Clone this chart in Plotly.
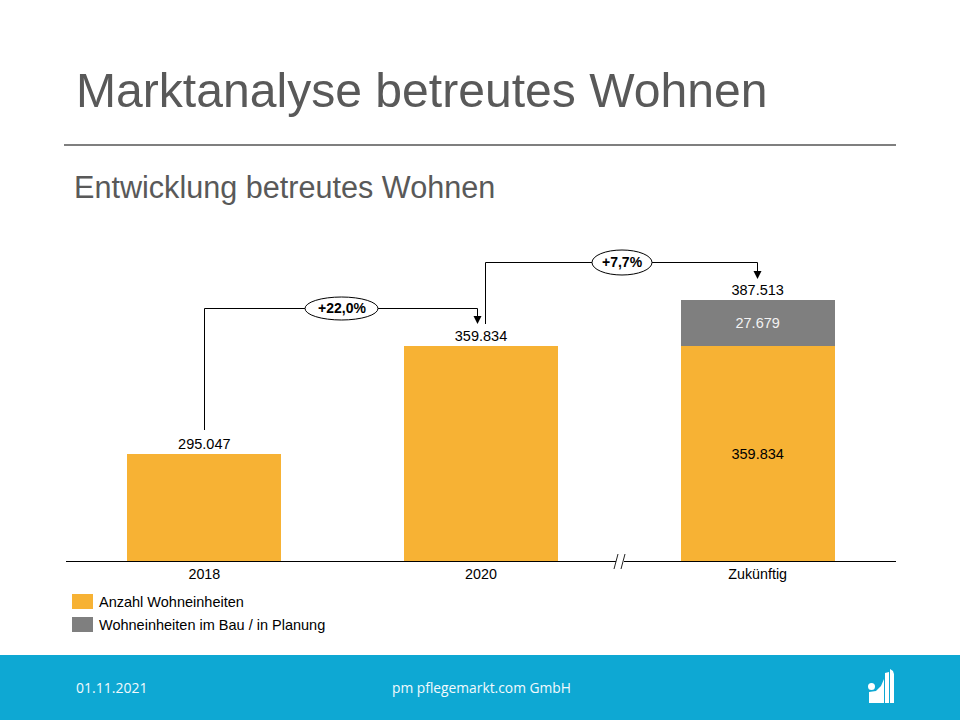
import plotly.graph_objects as go

categories = ["2018", "2020", "Zukünftig"]
wohneinheiten = [295047, 359834, 359834]
im_bau = [None, None, 27679]
totals = [295047, 359834, 387513]
growth_labels = ["+22,0%", "+7,7%"]
legend_names = ["Anzahl Wohneinheiten", "Wohneinheiten im Bau / in Planung"]

ORANGE = "#F7B234"
GREY = "#7F7F7F"
BLUE = "#0EA8D3"
TEXT = "#595959"
FONT = "Liberation Sans"
W, H = 960, 720
LEFT, RIGHT, TOP, BOTTOM = 66, 896, 220, 561
Y_FLOOR = 230834
Y_TOP = 435434
PX = (Y_TOP - Y_FLOOR) / (BOTTOM - TOP)  # axis units per pixel


def px_x(x):
    # page pixels to paper coordinates of the plot area
    return (x - LEFT) / (RIGHT - LEFT)


def px_y(y):
    return (BOTTOM - y) / (BOTTOM - TOP)


def de(v):
    return f"{v:,}".replace(",", ".")


def line(x0, y0, x1, y1, color="black", width=1):
    return dict(type="line", xref="paper", yref="paper", x0=px_x(x0), y0=px_y(y0),
                x1=px_x(x1), y1=px_y(y1), line=dict(color=color, width=width))


def poly(points, color):
    d = "M" + " L".join(f"{px_x(x):.5f},{px_y(y):.5f}" for x, y in points) + " Z"
    return dict(type="path", xref="paper", yref="paper", path=d, fillcolor=color, line=dict(width=0))


def box(x0, y0, x1, y1, color):
    return dict(type="rect", xref="paper", yref="paper", x0=px_x(x0), y0=px_y(y0), x1=px_x(x1),
                y1=px_y(y1), fillcolor=color, line=dict(width=0), layer="above")


def ellipse(cx, cy, w, h):
    return dict(type="circle", xref="paper", yref="paper", x0=px_x(cx - w / 2), x1=px_x(cx + w / 2),
                y0=px_y(cy + h / 2), y1=px_y(cy - h / 2), fillcolor="white", line=dict(color="black", width=1))


def label(x, y, text, size, color="black", anchor="left", bold=False, font=FONT):
    return dict(xref="paper", yref="paper", x=px_x(x), y=px_y(y), text=f"<b>{text}</b>" if bold else text,
                showarrow=False, xanchor=anchor, yanchor="middle", xshift=-1 if anchor == "left" else 0,
                font=dict(family=font, size=size, color=color))


fig = go.Figure()
fig.add_bar(x=categories, y=wohneinheiten, marker_color=ORANGE, marker_line_width=0, width=0.556,
            name=legend_names[0])
fig.add_bar(x=categories, y=im_bau, marker_color=GREY, marker_line_width=0, width=0.556, name=legend_names[1])

# totals above the bars, lifted a little
fig.add_scatter(x=categories, y=[v + 1.5 * PX for v in totals], mode="text", text=[de(v) for v in totals],
                textposition="top center", textfont=dict(family=FONT, size=14.5, color="black"))
# labels inside the last bar
fig.add_scatter(x=categories[2:], y=[(Y_FLOOR + wohneinheiten[2]) / 2 - 1.5 * PX], mode="text",
                text=[de(wohneinheiten[2])], textposition="middle center",
                textfont=dict(family=FONT, size=14.5, color="black"))
fig.add_scatter(x=categories[2:], y=[wohneinheiten[2] + im_bau[2] / 2 - 1.5 * PX], mode="text", text=[de(im_bau[2])],
                textposition="middle center", textfont=dict(family=FONT, size=14.5, color="#F2F2F2"))

shapes = [
    box(0, 655, 960, 720, BLUE),
    line(64, 145, 896, 145, "#7F7F7F", 2),
    # growth connectors
    line(204.5, 430, 204.5, 308.5), line(204.5, 308.5, 477.5, 308.5), line(477.5, 308.5, 477.5, 317),
    poly([(473.5, 316), (481.5, 316), (477.5, 324)], "black"),
    line(485.5, 324, 485.5, 262.5), line(485.5, 262.5, 757.5, 262.5), line(757.5, 262.5, 757.5, 272),
    poly([(753.5, 271), (761.5, 271), (757.5, 279)], "black"),
    ellipse(341.5, 308.5, 73, 23),
    ellipse(622, 262.5, 60, 25),
    # axis break
    box(616, 558, 624, 564, "white"),
    line(614, 569, 618, 554, "#222222", 1),
    line(621, 569, 625, 554, "#222222", 1),
    # legend swatches
    box(72, 594, 93, 609, ORANGE),
    box(72, 617, 93, 632, GREY),
    # logo
    poly([(869, 703), (869, 692), (876, 691), (881, 686), (884, 679), (884, 703)], "white"),
    poly([(885, 703), (885, 673), (889, 672), (889, 703)], "white"),
    poly([(890, 703), (890, 669), (893, 671), (894, 674), (894, 703)], "white"),
    dict(type="circle", xref="paper", yref="paper", x0=px_x(868), x1=px_x(875), y0=px_y(690), y1=px_y(683),
         fillcolor="white", line=dict(width=0)),
]

annotations = [
    label(75, 90, "Marktanalyse betreutes Wohnen", 48.1, TEXT),
    label(73, 187, "Entwicklung betreutes Wohnen", 30.6, TEXT),
    label(341.5, 308, growth_labels[0], 14, bold=True, anchor="center"),
    label(622, 262, growth_labels[1], 14, bold=True, anchor="center"),
    label(98, 602, legend_names[0], 14.5),
    label(98, 625, legend_names[1], 14.5),
    label(75, 687, "01.11.2021", 14, "#F2FAFD", font="Open Sans"),
    label(481, 687, "pm pflegemarkt.com GmbH", 13.8, "#F2FAFD", anchor="center", font="Open Sans"),
]

fig.update_layout(
    width=W, height=H, barmode="stack", showlegend=False, plot_bgcolor="white", paper_bgcolor="white",
    margin=dict(l=LEFT, r=W - RIGHT, t=TOP, b=H - BOTTOM), shapes=shapes, annotations=annotations,
    font=dict(family=FONT),
)
fig.update_xaxes(type="category", showline=True, linecolor="black", linewidth=1, ticks="", showgrid=False,
                 tickfont=dict(family=FONT, size=14.3, color="black"))
fig.update_yaxes(range=[Y_FLOOR, Y_TOP], visible=False, showgrid=False)

fig.write_html("out.html", config=dict(displayModeBar=False), post_script="document.body.style.margin='0';")
